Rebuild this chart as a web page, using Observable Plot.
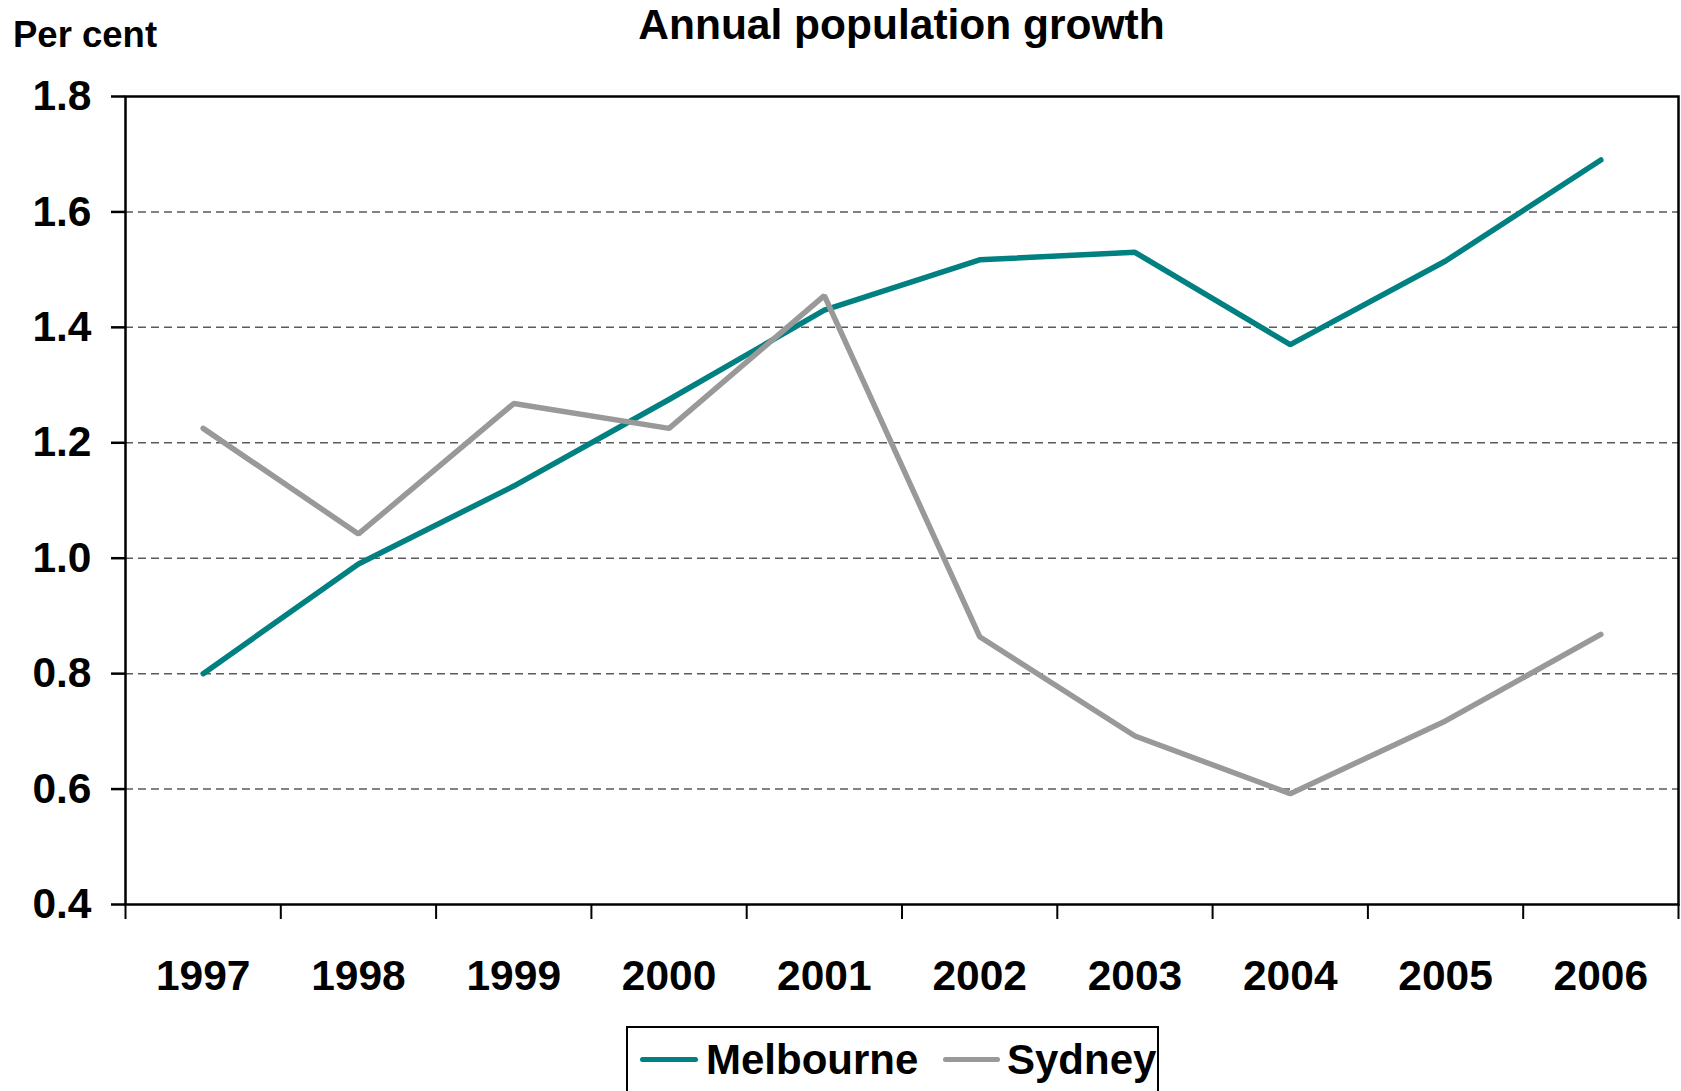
<!DOCTYPE html>
<html>
<head>
<meta charset="utf-8">
<script src="https://cdn.jsdelivr.net/npm/d3@7"></script>
<script src="https://cdn.jsdelivr.net/npm/@observablehq/plot@0.6"></script>
<style>
  html, body { margin: 0; padding: 0; background: #fff; }
  #page {
    position: relative; width: 1681px; height: 1091px; overflow: hidden;
    font-family: "Liberation Sans", Arial, Helvetica, sans-serif; font-weight: bold; color: #000;
  }
  #chart { position: absolute; left: 0; top: 0; }
  .title { position: absolute; left: 125px; width: 1553px; top: 4px; text-align: center; font-size: 42.5px; line-height: 42.5px; }
  .unit { position: absolute; left: 13px; top: 17px; font-size: 36.5px; line-height: 36.5px; }
  .legend-box { position: absolute; left: 626px; top: 1026px; width: 529px; height: 100px; border: 2px solid #000; }
  .swatch { position: absolute; height: 5px; border-radius: 3px; }
  .legend-label { position: absolute; top: 1039px; font-size: 42px; line-height: 42px; white-space: nowrap; }
</style>
</head>
<body>
<div id="page">
  <div id="chart"></div>
  <div class="title">Annual population growth</div>
  <div class="unit">Per cent</div>
  <div class="legend-box"></div>
  <div id="legend"></div>
</div>
<script>
// Annual population growth, per cent
const years = [1997, 1998, 1999, 2000, 2001, 2002, 2003, 2004, 2005, 2006];
const melbourne = [0.80, 0.99, 1.125, 1.275, 1.43, 1.517, 1.53, 1.37, 1.515, 1.69];
const sydney = [1.225, 1.042, 1.268, 1.225, 1.455, 0.864, 0.692, 0.592, 0.718, 0.868];

const cities = ["Melbourne", "Sydney"];
const cityColours = ["#008080", "#999999"];
const yTicks = [0.4, 0.6, 0.8, 1.0, 1.2, 1.4, 1.6, 1.8];
const gridTicks = [0.6, 0.8, 1.0, 1.2, 1.4, 1.6];

// long-format rows for the line mark
const rows = [
  ...years.map((year, i) => ({year, city: "Melbourne", value: melbourne[i]})),
  ...years.map((year, i) => ({year, city: "Sydney", value: sydney[i]}))
];

// category boundaries: tick marks sit between the years
const boundaries = [...years.map(y => y - 0.5), years[years.length - 1] + 0.5];

const chart = Plot.plot({
  width: 1681,
  height: 1010,
  marginLeft: 125,
  marginRight: 3,
  marginTop: 96,
  marginBottom: 106,
  x: {type: "linear", domain: [boundaries[0], boundaries[boundaries.length - 1]]},
  y: {domain: [0.4, 1.8]},
  color: {domain: cities, range: cityColours},
  style: {
    fontFamily: '"Liberation Sans", Arial, Helvetica, sans-serif',
    fontSize: "42.5px",
    fontWeight: "bold",
    color: "#000",
    background: "transparent",
    overflow: "visible"
  },
  marks: [
    Plot.gridY({ticks: gridTicks, stroke: "#5a5a5a", strokeOpacity: 1, strokeWidth: 1.5, strokeDasharray: "8,5"}),
    Plot.line(rows, {x: "year", y: "value", z: "city", stroke: "city", strokeWidth: 5.5, strokeLinejoin: "miter", strokeLinecap: "round"}),
    Plot.axisY({ticks: yTicks, tickSize: 14, tickPadding: 20, strokeWidth: 2.5, tickFormat: d3.format(".1f"), label: null}),
    Plot.axisX({ticks: boundaries, tickSize: 15, strokeWidth: 2, tickFormat: () => "", label: null}),
    Plot.axisX({ticks: years, tickSize: 0, tickPadding: 55, tickFormat: d => String(d), label: null}),
    Plot.frame({stroke: "#000", strokeWidth: 2.5})
  ]
});
document.getElementById("chart").append(chart);

// legend: line swatch + label for each city
const legend = document.getElementById("legend");
const legendLayout = [
  {swatchLeft: 640, swatchWidth: 58, textLeft: 706},
  {swatchLeft: 943, swatchWidth: 57, textLeft: 1007}
];
cities.forEach((city, i) => {
  const sw = document.createElement("div");
  sw.className = "swatch";
  sw.style.left = legendLayout[i].swatchLeft + "px";
  sw.style.width = legendLayout[i].swatchWidth + "px";
  sw.style.top = "1057px";
  sw.style.background = cityColours[i];
  legend.append(sw);
  const label = document.createElement("div");
  label.className = "legend-label";
  label.style.left = legendLayout[i].textLeft + "px";
  label.textContent = city;
  legend.append(label);
});
</script>
</body>
</html>
